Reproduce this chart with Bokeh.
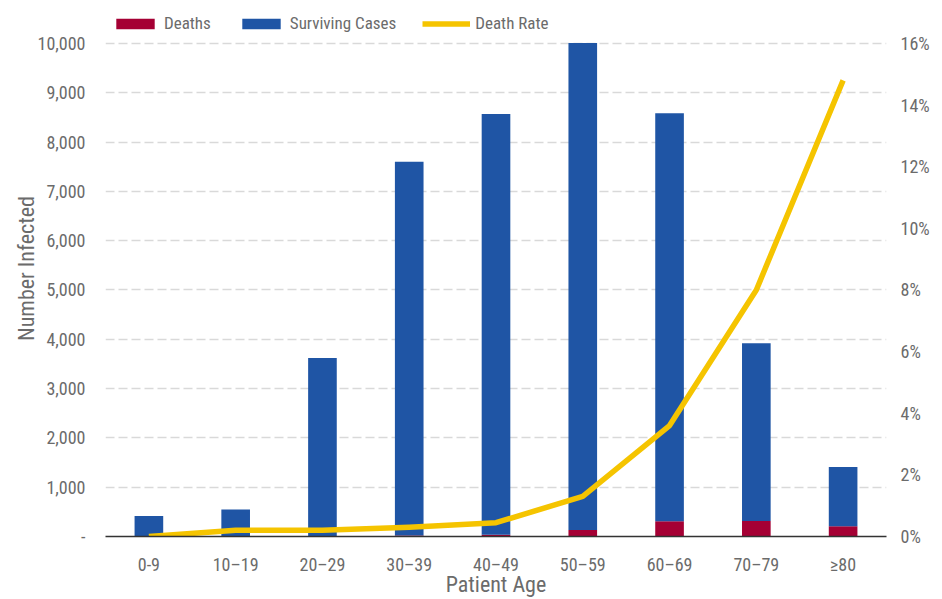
from bokeh.plotting import figure
from bokeh.models import (Range1d, LinearAxis, NumeralTickFormatter, CustomJSTickFormatter,
                          FixedTicker, Legend, LegendItem, ColumnDataSource)
from bokeh.embed import file_html
from bokeh.resources import INLINE

ages = ["0-9", "10\u201319", "20\u201329", "30\u201339", "40\u201349", "50\u201359", "60\u201369", "70\u201379", "\u226580"]
deaths = [0, 1, 7, 18, 38, 130, 309, 312, 208]
surviving = [416, 548, 3612, 7582, 8533, 9878, 8274, 3606, 1200]
death_rate = [0.0, 0.002, 0.002, 0.003, 0.0045, 0.013, 0.036, 0.080, 0.148]
count_ticks = list(range(0, 10001, 1000))
rate_ticks = [i / 100 for i in range(0, 17, 2)]

FONT = "Liberation Sans Narrow, Roboto Condensed, Roboto, sans-serif"
GRAY = "#6b6b6b"
RED = "#a50034"
BLUE = "#1f55a5"
YELLOW = "#f5c400"

# frame spans the full height above the x axis; leave headroom for the legend
FRAME_H = 537
PLOT_H = 494
head = FRAME_H / PLOT_H

src = ColumnDataSource(dict(age=ages, Deaths=deaths, Surviving=surviving, rate=death_rate))

p = figure(x_range=ages, y_range=Range1d(0, count_ticks[-1] * head), width=942, height=599,
           min_border_left=105, min_border_right=56, min_border_top=0, min_border_bottom=62,
           output_backend="svg", toolbar_location=None, title=None)
p.extra_y_ranges = {"rate": Range1d(0, rate_ticks[-1] * head)}

bars = p.vbar_stack(["Deaths", "Surviving"], x="age", width=0.33, source=src,
                    color=[RED, BLUE], line_color=None)
ln = p.line(x="age", y="rate", source=src, y_range_name="rate", line_color=YELLOW,
            line_width=5.5, line_cap="butt", line_join="round")

p.outline_line_color = None
p.xgrid.grid_line_color = None
p.ygrid.grid_line_color = "#d9d9d9"
p.ygrid.grid_line_dash = "9 4"
p.ygrid.grid_line_width = 1.5
p.ygrid.ticker = FixedTicker(ticks=count_ticks[1:])

def plain(ax):
    ax.axis_line_color = None
    ax.major_tick_line_color = None
    ax.minor_tick_line_color = None
    ax.major_tick_out = 0
    ax.major_tick_in = 0
    ax.minor_tick_out = 0
    ax.minor_tick_in = 0
    ax.major_label_text_font = FONT
    ax.major_label_text_font_size = "18px"
    ax.major_label_text_color = GRAY
    ax.axis_label_text_font = FONT
    ax.axis_label_text_font_size = "22px"
    ax.axis_label_text_font_style = "normal"
    ax.axis_label_text_color = GRAY

# left axis
ya = p.yaxis[0]
plain(ya)
ya.ticker = FixedTicker(ticks=count_ticks)
ya.formatter = CustomJSTickFormatter(code="return tick == 0 ? '-' : tick.toLocaleString('en-US');")
ya.major_label_standoff = 20
ya.axis_label = "Number Infected"
ya.axis_label_standoff = -4

# bottom axis
xa = p.xaxis[0]
plain(xa)
xa.axis_line_color = "#333333"
xa.axis_line_width = 1.5
xa.major_label_standoff = 17
xa.axis_label = "Patient Age"
xa.axis_label_standoff = -6

# right axis
ra = LinearAxis(y_range_name="rate", ticker=FixedTicker(ticks=rate_ticks),
                formatter=NumeralTickFormatter(format="0%"))
plain(ra)
ra.major_label_standoff = 14
p.add_layout(ra, "right")

legend = Legend(items=[LegendItem(label="Deaths", renderers=[bars[0]]),
                       LegendItem(label="Surviving Cases", renderers=[bars[1]]),
                       LegendItem(label="Death Rate", renderers=[ln])],
                orientation="horizontal", location=(6, 503))
legend.border_line_color = None
legend.background_fill_alpha = 0
legend.label_text_font = FONT
legend.label_text_font_size = "17px"
legend.label_text_color = GRAY
legend.glyph_width = 48
legend.glyph_height = 13
legend.label_standoff = 5
legend.spacing = 26
legend.padding = 2
legend.margin = 0
p.add_layout(legend, "center")

open("out.html", "w").write(file_html(p, INLINE))
